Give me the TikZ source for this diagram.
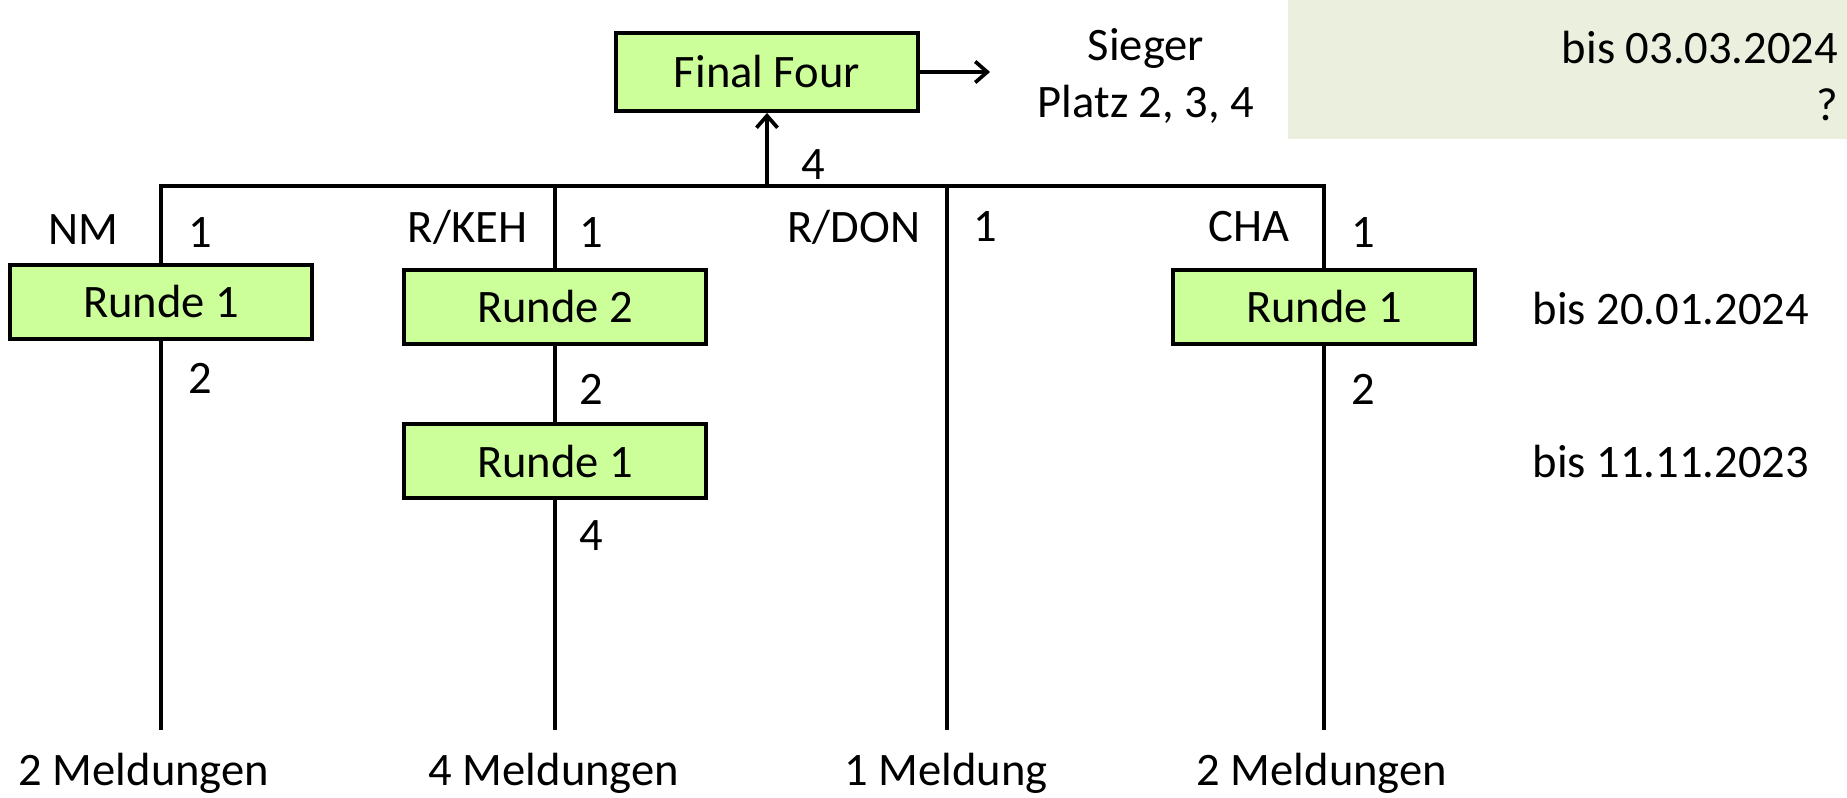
\documentclass[tikz,border=0pt]{standalone}
\usepackage{fontspec}
\setmainfont{Carlito}
\usetikzlibrary{positioning,calc,arrows.meta}
\definecolor{boxgreen}{RGB}{204,255,153}
\definecolor{datebg}{RGB}{235,239,222}
\tikzset{
    runde/.style={draw, fill=boxgreen, line width=2.2pt, minimum width=6.04cm, minimum height=1.48cm, inner sep=0pt},
    num/.style={inner sep=0pt}
}
\begin{document}
\begin{tikzpicture}[x=0.02cm, y=-0.02cm, line width=2.1pt,
    font=\fontsize{26.5}{32.4}\selectfont,
    >={Straight Barb[length=0.24cm,width=0.42cm]}]
    \useasboundingbox (0,0) rectangle (1847,798);
    \fill[datebg] (1288,0) rectangle (1847,139);
    \node (FF) [runde, minimum height=1.56cm] at (767,72) {Final Four};
    \node (Sieger) [align=center] at (1146,76) {Sieger\\Platz 2, 3, 4};
    \node (D3) [num, align=right, anchor=east] at (1840,76) {bis 03.03.2024\\?};
    \coordinate (FFin) at (767,186);
    \coordinate (Out) at (990,72);
    \node (Vier) [num] at (813,165) {4};
    \coordinate (NMtop) at (161,186);
    \coordinate (KEHtop) at (555,186);
    \coordinate (DONtop) at (947,186);
    \coordinate (CHAtop) at (1324,186);
    \node (NM) [num, anchor=east] at (120,230) {NM};
    \node (KEH) [num, anchor=east] at (529,227) {R/KEH};
    \node (DON) [num, anchor=east] at (922,227) {R/DON};
    \node (CHA) [num, anchor=east] at (1291,227) {CHA};
    \node (NM1) [num] at (200,233) {1};
    \node (KEH1) [num] at (591,233) {1};
    \node (DON1) [num] at (985,227) {1};
    \node (CHA1) [num] at (1363,233) {1};
    \node (NMr1) [runde] at (161,302) {Runde 1};
    \node (KEHr2) [runde] at (555,307) {Runde 2};
    \node (KEHr1) [runde] at (555,461) {Runde 1};
    \node (CHAr1) [runde] at (1324,307) {Runde 1};
    \node (NM2) [num] at (200,378) {2};
    \node (KEH2) [num] at (591,389) {2};
    \node (KEH4) [num] at (591,536) {4};
    \node (CHA2) [num] at (1363,389) {2};
    \node (D2) [num, anchor=west] at (1531,309) {bis 20.01.2024};
    \node (D1) [num, anchor=west] at (1531,462) {bis 11.11.2023};
    \coordinate (NMbot) at (161,730);
    \coordinate (KEHbot) at (555,730);
    \coordinate (DONbot) at (947,730);
    \coordinate (CHAbot) at (1324,730);
    \node (NMm) at (144,773) {2 Meldungen};
    \node (KEHm) at (554,773) {4 Meldungen};
    \node (DONm) at (946,773) {1 Meldung};
    \node (CHAm) at (1322,773) {2 Meldungen};
    \draw (NMr1.north) -- (NMtop) -- (CHAtop) -- (CHAr1.north);
    \draw
        (KEHtop) -- (KEHr2)
        (DONtop) -- (DONbot)
        (NMr1) -- (NMbot)
        (KEHr2) -- (KEHr1)
        (KEHr1) -- (KEHbot)
        (CHAr1) -- (CHAbot);
    \draw[->] (FFin) -- (FF);
    \draw[->] (FF) -- (Out);
\end{tikzpicture}
\end{document}
